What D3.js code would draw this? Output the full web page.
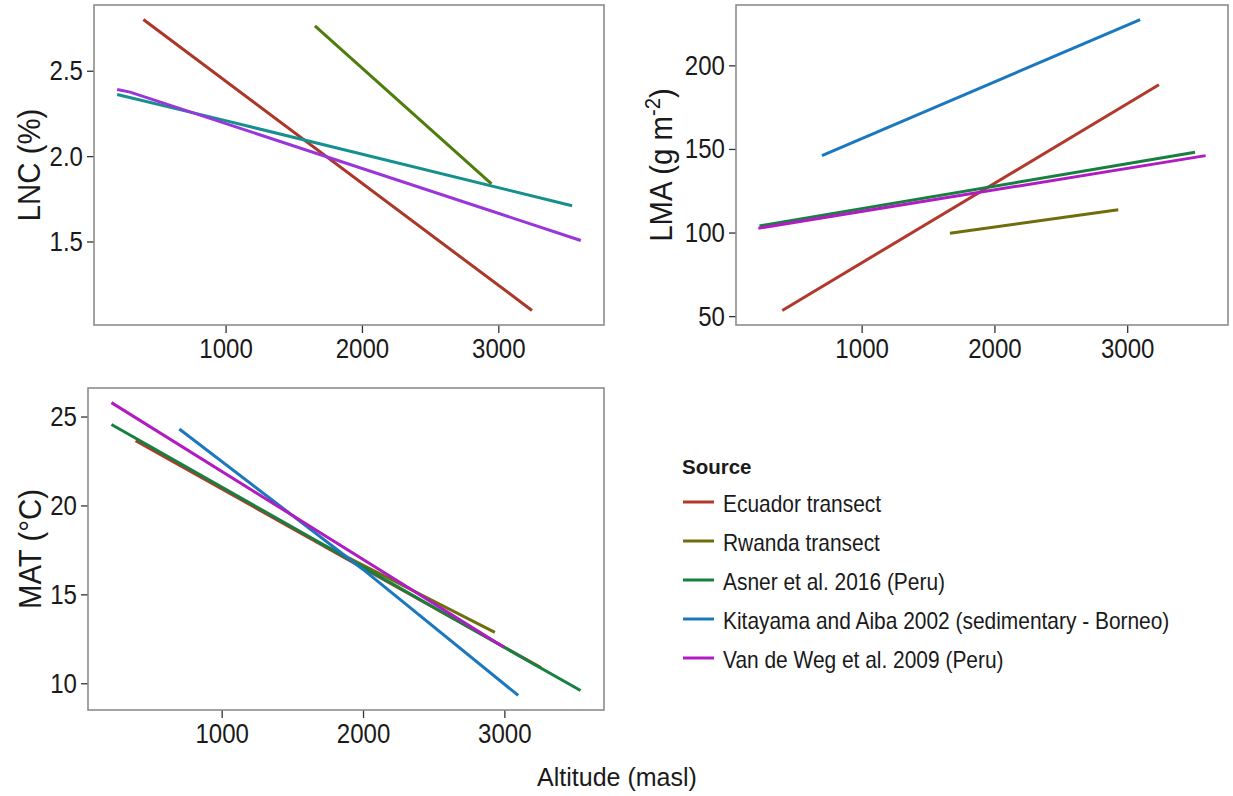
<!DOCTYPE html>
<html>
<head>
<meta charset="utf-8">
<script src="https://cdn.jsdelivr.net/npm/d3@7"></script>
<style>
  body { margin: 0; background: #fff; }
  text { font-family: Arial, "Liberation Sans", sans-serif; fill: #1a1a1a; }
</style>
</head>
<body>
<div id="chart"></div>
<script>
// sources (legend order = drawing order)
var sources = ["Ecuador transect", "Rwanda transect", "Asner et al. 2016 (Peru)",
               "Kitayama and Aiba 2002 (sedimentary - Borneo)", "Van de Weg et al. 2009 (Peru)"];
var sourceColors = ["#b0392c", "#6e6e0c", "#17803f", "#1a78bf", "#b01cc2"];
// the LNC panel only has four sources and its own palette
var lncSources = ["Ecuador transect", "Rwanda transect", "Asner et al. 2016 (Peru)", "Van de Weg et al. 2009 (Peru)"];
var lncColors = ["#ac3628", "#4e7d0c", "#16908f", "#9a35dc"];

var xTicks = [1000, 2000, 3000];

// fitted lines, [altitude, value]
var lncEcuador = [[397, 2.80], [3247, 1.096]];
var lncRwanda  = [[1655, 2.763], [2950, 1.837]];
var lncAsner   = [[205, 2.361], [1000, 2.208], [3541, 1.709]];
var lncVanDeWeg = [[205, 2.390], [300, 2.375], [3605, 1.506]];

var lmaEcuador = [[402, 53.4], [3239, 188.4]];
var lmaRwanda  = [[1665, 99.6], [2933, 113.6]];
var lmaAsner   = [[231, 104], [3511, 148]];
var lmaKitayama = [[701, 146], [3098, 227.4]];
var lmaVanDeWeg = [[222, 102.6], [3591, 146]];

var matEcuador = [[391, 23.64], [3258, 10.88]];
var matRwanda  = [[1665, 18.0], [2933, 12.86]];
var matAsner   = [[220, 24.55], [3539, 9.59]];
var matKitayama = [[700, 24.3], [2000, 16.4], [3098, 9.32]];
var matVanDeWeg = [[220, 25.78], [2997, 12.03]];

var lncTicks = [1.5, 2.0, 2.5];
var lmaTicks = [50, 100, 150, 200];
var matTicks = [10, 15, 20, 25];

var svg = d3.select("#chart").append("svg")
    .attr("width", 1233)
    .attr("height", 796);

// ggplot-like 5% expansion
function expand(vals) {
  var ext = d3.extent(vals), r = ext[1] - ext[0];
  return [ext[0] - r * 0.05, ext[1] + r * 0.05];
}

function panel(box, series, colors, yTicks, yFmt) {
  var allX = [], allY = [];
  series.forEach(function(s) { s.forEach(function(p) { allX.push(p[0]); allY.push(p[1]); }); });

  var x = d3.scaleLinear().domain(expand(allX)).range([box.left, box.right]);
  var y = d3.scaleLinear().domain(expand(allY)).range([box.bottom, box.top]);

  var line = d3.line()
    .x(function(d) { return x(d[0]); })
    .y(function(d) { return y(d[1]); });

  var g = svg.append("g");

  // bottom axis
  var xa = g.append("g")
    .attr("transform", "translate(0," + box.bottom + ")")
    .call(d3.axisBottom(x).tickValues(xTicks).tickSize(8).tickPadding(5).tickFormat(d3.format("d")));
  xa.select(".domain").remove();
  xa.selectAll("line").attr("stroke", "#333").attr("stroke-width", 1.3);
  xa.selectAll("text").attr("font-size", 28).attr("fill", "#1a1a1a")
    .attr("transform", "scale(0.86,1)");

  // left axis
  var ya = g.append("g")
    .attr("transform", "translate(" + box.left + ",0)")
    .call(d3.axisLeft(y).tickValues(yTicks).tickSize(7).tickFormat(d3.format(yFmt)));
  ya.select(".domain").remove();
  ya.selectAll("line").attr("stroke", "#333").attr("stroke-width", 1.3);
  ya.selectAll("text").attr("font-size", 28).attr("fill", "#1a1a1a")
    .attr("x", -11 / 0.86)
    .attr("transform", "scale(0.86,1)");

  // lines
  g.append("g").selectAll("path")
    .data(series)
    .enter().append("path")
      .attr("d", line)
      .attr("fill", "none")
      .attr("stroke", function(d, i) { return colors[i]; })
      .attr("stroke-width", 3);

  // frame
  g.append("rect")
    .attr("x", box.left).attr("y", box.top)
    .attr("width", box.right - box.left).attr("height", box.bottom - box.top)
    .attr("fill", "none").attr("stroke", "#8c8c8c").attr("stroke-width", 1.6);

  return g;
}

function yTitle(xPos, yMid) {
  return svg.append("text")
    .attr("transform", "translate(" + xPos + "," + yMid + ") rotate(-90) scale(0.92,1)")
    .attr("text-anchor", "middle")
    .attr("font-size", 32);
}

// LNC
panel({left: 94, right: 604, top: 5, bottom: 325},
      [lncEcuador, lncRwanda, lncAsner, lncVanDeWeg], lncColors, lncTicks, ".1f");
yTitle(40, 165).text("LNC (%)");

// LMA
panel({left: 736, right: 1228, top: 5, bottom: 325},
      [lmaEcuador, lmaRwanda, lmaAsner, lmaKitayama, lmaVanDeWeg], sourceColors, lmaTicks, "d");
var lmaT = yTitle(672, 165);
lmaT.append("tspan").text("LMA (g m");
lmaT.append("tspan").attr("dy", -12).attr("font-size", 22).text("-2");
lmaT.append("tspan").attr("dy", 12).text(")");

// MAT
panel({left: 88, right: 604, top: 388, bottom: 710},
      [matEcuador, matRwanda, matAsner, matKitayama, matVanDeWeg], sourceColors, matTicks, "d");
yTitle(41, 549).text("MAT (°C)");

// shared x title
svg.append("text")
  .attr("x", 617).attr("y", 786)
  .attr("text-anchor", "middle")
  .attr("font-size", 25)
  .text("Altitude (masl)");

// legend
var legend = svg.append("g");
legend.append("text")
  .attr("x", 682).attr("y", 474)
  .attr("font-size", 20.5)
  .attr("font-weight", "bold")
  .text("Source");

var item = legend.selectAll("g.item")
  .data(sources)
  .enter().append("g")
    .attr("class", "item")
    .attr("transform", function(d, i) { return "translate(0," + (502 + i * 39) + ")"; });
item.append("line")
  .attr("x1", 683).attr("x2", 714)
  .attr("stroke", function(d, i) { return sourceColors[i]; })
  .attr("stroke-width", 3);
item.append("text")
  .attr("transform", "translate(723,10) scale(0.91,1)")
  .attr("font-size", 23)
  .text(function(d) { return d; });
</script>
</body>
</html>
